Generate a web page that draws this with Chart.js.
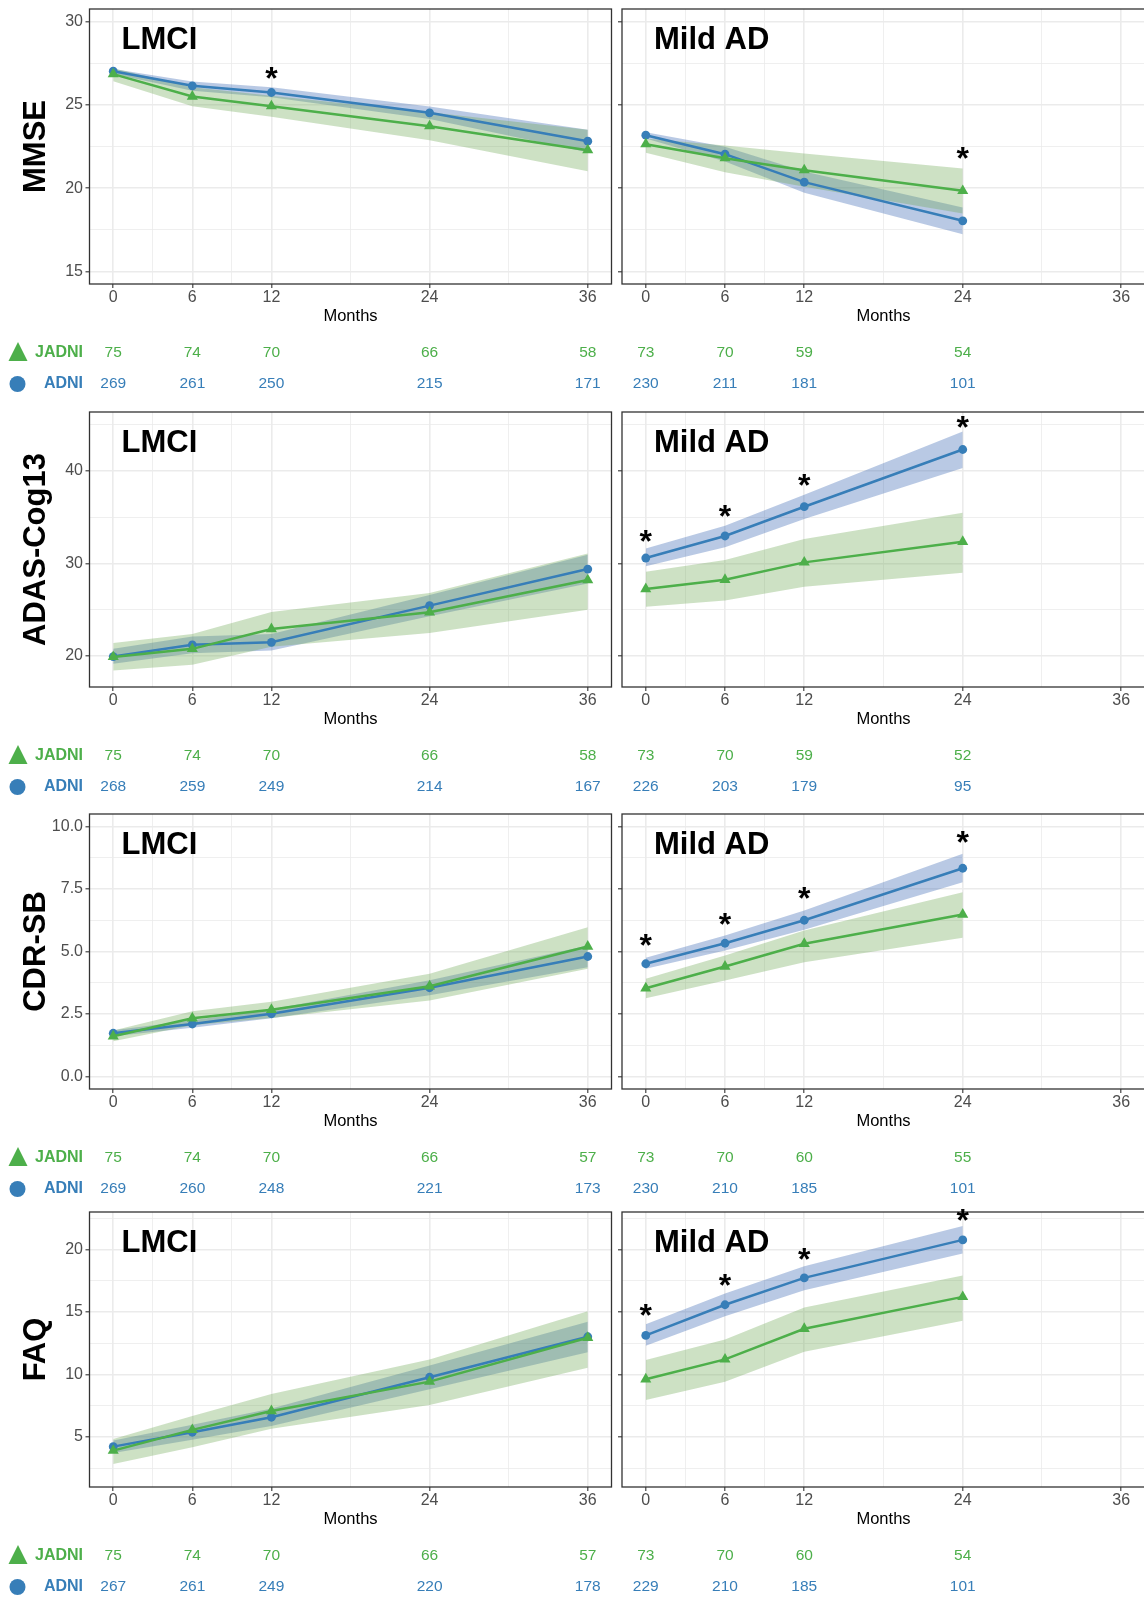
<!DOCTYPE html>
<html>
<head>
<meta charset="utf-8">
<script src="https://cdn.jsdelivr.net/npm/chart.js@4.4.1/dist/chart.umd.min.js"></script>
<style>
  html, body { margin: 0; padding: 0; background: #fff; overflow: hidden; }
  #wrap { position: relative; width: 1144px; height: 1597px; overflow: hidden; }
  canvas { position: absolute; max-width: none; }
</style>
</head>
<body>
<div id="wrap"></div>
<script>
const FONT = '"Liberation Sans", Arial, Helvetica, sans-serif'
const BLUE = '#377EB8'
const GREEN = '#4DAF4A'
const BLUE_BAND = 'rgba(55,101,178,0.35)'
const GREEN_BAND = 'rgba(112,169,86,0.35)'

const monthsLmci = [0, 6, 12, 24, 36]
const monthsAd = [0, 6, 12, 24]
const xMajor = [0, 6, 12, 24, 36]
const xMinor = [3, 9, 18, 30]

// MMSE
const mmseTicks = [15, 20, 25, 30]
const mmseMinor = [17.5, 22.5, 27.5]
const mmseLmciAdni = [27.02, 26.14, 25.74, 24.52, 22.82]
const mmseLmciAdniLo = [26.85, 25.85, 25.45, 24.15, 22.15]
const mmseLmciAdniHi = [27.15, 26.40, 26.05, 24.90, 23.50]
const mmseLmciJadni = [26.84, 25.50, 24.92, 23.72, 22.28]
const mmseLmciJadniLo = [26.42, 24.92, 24.28, 22.88, 21.02]
const mmseLmciJadniHi = [27.20, 26.05, 25.55, 24.55, 23.50]
const mmseLmciStarX = [12]
const mmseLmciStarY = [26.92]
const mmseLmciNJadni = [75, 74, 70, 66, 58]
const mmseLmciNAdni = [269, 261, 250, 215, 171]
const mmseAdAdni = [23.18, 22.04, 20.36, 18.04]
const mmseAdAdniLo = [22.98, 21.60, 19.72, 17.24]
const mmseAdAdniHi = [23.36, 22.48, 21.00, 18.84]
const mmseAdJadni = [22.64, 21.80, 21.08, 19.84]
const mmseAdJadniLo = [22.12, 20.96, 20.08, 18.48]
const mmseAdJadniHi = [22.98, 22.56, 22.08, 21.18]
const mmseAdStarX = [24]
const mmseAdStarY = [22.12]
const mmseAdNJadni = [73, 70, 59, 54]
const mmseAdNAdni = [230, 211, 181, 101]

// ADAS-Cog13
const adasTicks = [20, 30, 40]
const adasMinor = [25, 35, 45]
const adasLmciAdni = [19.94, 21.20, 21.48, 25.44, 29.39]
const adasLmciAdniLo = [19.15, 20.30, 20.58, 24.30, 27.84]
const adasLmciAdniHi = [20.77, 22.10, 22.38, 26.59, 30.94]
const adasLmciJadni = [19.90, 20.77, 22.92, 24.72, 28.20]
const adasLmciJadniLo = [18.43, 19.04, 21.00, 22.49, 25.00]
const adasLmciJadniHi = [21.41, 22.38, 24.76, 26.80, 31.08]
const adasLmciStarX = []
const adasLmciStarY = []
const adasLmciNJadni = [75, 74, 70, 66, 58]
const adasLmciNAdni = [268, 259, 249, 214, 167]
const adasAdAdni = [30.58, 32.96, 36.12, 42.30]
const adasAdAdniLo = [29.68, 31.73, 34.79, 40.29]
const adasAdAdniHi = [31.62, 34.07, 37.41, 44.24]
const adasAdJadni = [27.24, 28.24, 30.11, 32.34]
const adasAdJadniLo = [25.33, 25.98, 27.49, 29.00]
const adasAdJadniHi = [29.10, 30.36, 32.63, 35.47]
const adasAdStarX = [0, 6, 12, 24]
const adasAdStarY = [32.99, 35.68, 38.99, 45.32]
const adasAdNJadni = [73, 70, 59, 52]
const adasAdNAdni = [226, 203, 179, 95]

// CDR-SB
const cdrTicks = [0, 2.5, 5, 7.5, 10]
const cdrMinor = [1.25, 3.75, 6.25, 8.75]
const cdrLmciAdni = [1.73, 2.10, 2.51, 3.55, 4.80]
const cdrLmciAdniLo = [1.61, 1.95, 2.33, 3.25, 4.37]
const cdrLmciAdniHi = [1.85, 2.25, 2.69, 3.85, 5.24]
const cdrLmciJadni = [1.61, 2.33, 2.67, 3.61, 5.20]
const cdrLmciJadniLo = [1.41, 2.05, 2.34, 3.04, 4.31]
const cdrLmciJadniHi = [1.84, 2.61, 2.99, 4.11, 5.97]
const cdrLmciStarX = []
const cdrLmciStarY = []
const cdrLmciNJadni = [75, 74, 70, 66, 57]
const cdrLmciNAdni = [269, 260, 248, 221, 173]
const cdrAdAdni = [4.51, 5.33, 6.25, 8.33]
const cdrAdAdniLo = [4.31, 5.04, 5.87, 7.77]
const cdrAdAdniHi = [4.75, 5.64, 6.64, 8.91]
const cdrAdJadni = [3.53, 4.40, 5.31, 6.48]
const cdrAdJadniLo = [3.13, 3.84, 4.57, 5.55]
const cdrAdJadniHi = [3.91, 4.84, 5.84, 7.37]
const cdrAdStarX = [0, 6, 12, 24]
const cdrAdStarY = [5.47, 6.31, 7.33, 9.57]
const cdrAdNJadni = [73, 70, 60, 55]
const cdrAdNAdni = [230, 210, 185, 101]

// FAQ
const faqTicks = [5, 10, 15, 20]
const faqMinor = [2.5, 7.5, 12.5, 17.5, 22.5]
const faqLmciAdni = [4.23, 5.38, 6.58, 9.78, 13.02]
const faqLmciAdniLo = [3.73, 4.78, 5.88, 8.83, 11.78]
const faqLmciAdniHi = [4.73, 5.98, 7.28, 10.73, 14.22]
const faqLmciJadni = [3.91, 5.57, 7.08, 9.43, 12.94]
const faqLmciJadniLo = [2.85, 4.19, 5.67, 7.56, 10.54]
const faqLmciJadniHi = [4.85, 6.69, 8.44, 11.21, 15.07]
const faqLmciStarX = []
const faqLmciStarY = []
const faqLmciNJadni = [75, 74, 70, 66, 57]
const faqLmciNAdni = [267, 261, 249, 220, 178]
const faqAdAdni = [13.13, 15.58, 17.73, 20.77]
const faqAdAdniLo = [12.30, 14.67, 16.75, 19.68]
const faqAdAdniHi = [14.03, 16.48, 18.67, 21.89]
const faqAdJadni = [9.62, 11.21, 13.66, 16.21]
const faqAdJadniLo = [7.96, 9.43, 11.82, 14.30]
const faqAdJadniHi = [11.16, 12.81, 15.37, 17.92]
const faqAdStarX = [0, 6, 12, 24]
const faqAdStarY = [15.15, 17.55, 19.68, 22.74]
const faqAdNJadni = [73, 70, 60, 54]
const faqAdNAdni = [229, 210, 185, 101]

function panel(title, months, adni, adniLo, adniHi, jadni, jadniLo, jadniHi, starX, starY, nJadni, nAdni) {
  return { title, months, adni, adniLo, adniHi, jadni, jadniLo, jadniHi, starX, starY, nJadni, nAdni }
}

const intFmt = v => String(v)
const rows = [
  { label: 'MMSE', top: 0, yMin: 14.25, yMax: 30.75, yTicks: mmseTicks, yMinor: mmseMinor, fmt: intFmt,
    left: panel('LMCI', monthsLmci, mmseLmciAdni, mmseLmciAdniLo, mmseLmciAdniHi, mmseLmciJadni, mmseLmciJadniLo, mmseLmciJadniHi, mmseLmciStarX, mmseLmciStarY, mmseLmciNJadni, mmseLmciNAdni),
    right: panel('Mild AD', monthsAd, mmseAdAdni, mmseAdAdniLo, mmseAdAdniHi, mmseAdJadni, mmseAdJadniLo, mmseAdJadniHi, mmseAdStarX, mmseAdStarY, mmseAdNJadni, mmseAdNAdni) },
  { label: 'ADAS-Cog13', top: 403, yMin: 16.65, yMax: 46.35, yTicks: adasTicks, yMinor: adasMinor, fmt: intFmt,
    left: panel('LMCI', monthsLmci, adasLmciAdni, adasLmciAdniLo, adasLmciAdniHi, adasLmciJadni, adasLmciJadniLo, adasLmciJadniHi, adasLmciStarX, adasLmciStarY, adasLmciNJadni, adasLmciNAdni),
    right: panel('Mild AD', monthsAd, adasAdAdni, adasAdAdniLo, adasAdAdniHi, adasAdJadni, adasAdJadniLo, adasAdJadniHi, adasAdStarX, adasAdStarY, adasAdNJadni, adasAdNAdni) },
  { label: 'CDR-SB', top: 805, yMin: -0.5, yMax: 10.5, yTicks: cdrTicks, yMinor: cdrMinor, fmt: v => v.toFixed(1),
    left: panel('LMCI', monthsLmci, cdrLmciAdni, cdrLmciAdniLo, cdrLmciAdniHi, cdrLmciJadni, cdrLmciJadniLo, cdrLmciJadniHi, cdrLmciStarX, cdrLmciStarY, cdrLmciNJadni, cdrLmciNAdni),
    right: panel('Mild AD', monthsAd, cdrAdAdni, cdrAdAdniLo, cdrAdAdniHi, cdrAdJadni, cdrAdJadniLo, cdrAdJadniHi, cdrAdStarX, cdrAdStarY, cdrAdNJadni, cdrAdNAdni) },
  { label: 'FAQ', top: 1203, yMin: 1.0, yMax: 23.0, yTicks: faqTicks, yMinor: faqMinor, fmt: intFmt,
    left: panel('LMCI', monthsLmci, faqLmciAdni, faqLmciAdniLo, faqLmciAdniHi, faqLmciJadni, faqLmciJadniLo, faqLmciJadniHi, faqLmciStarX, faqLmciStarY, faqLmciNJadni, faqLmciNAdni),
    right: panel('Mild AD', monthsAd, faqAdAdni, faqAdAdniLo, faqAdAdniHi, faqAdJadni, faqAdJadniLo, faqAdJadniHi, faqAdStarX, faqAdStarY, faqAdNJadni, faqAdNAdni) },
]

function pts(xs, ys) {
  return xs.map((m, i) => ({ x: m, y: ys[i] }))
}

// frame, panel label, asterisks, "Months", numbers at risk
function decor(row, p, isLeft) {
  return {
    id: 'decor',
    afterDraw(chart) {
      const { ctx, chartArea: a, scales: { x, y } } = chart
      ctx.save()
      ctx.strokeStyle = '#333333'
      ctx.lineWidth = 1.3
      ctx.strokeRect(a.left, a.top, a.right - a.left, a.bottom - a.top)

      ctx.fillStyle = '#000'
      ctx.font = 'bold 31px ' + FONT
      ctx.textAlign = 'left'
      ctx.textBaseline = 'alphabetic'
      ctx.fillText(p.title, a.left + 32, a.top + 40)

      ctx.font = 'bold 32px ' + FONT
      ctx.textAlign = 'center'
      const m = ctx.measureText('*')
      const shift = (m.actualBoundingBoxAscent - m.actualBoundingBoxDescent) / 2
      p.starX.forEach((sx, i) => {
        ctx.fillText('*', x.getPixelForValue(sx), y.getPixelForValue(p.starY[i]) + shift)
      })

      ctx.textBaseline = 'middle'
      ctx.font = '16.5px ' + FONT
      ctx.fillText('Months', (a.left + a.right) / 2, a.bottom + 32)

      ctx.font = '15.5px ' + FONT
      p.months.forEach((mo, i) => {
        const px = x.getPixelForValue(mo)
        ctx.fillStyle = GREEN
        ctx.fillText(String(p.nJadni[i]), px, a.bottom + 69)
        ctx.fillStyle = BLUE
        ctx.fillText(String(p.nAdni[i]), px, a.bottom + 100)
      })

      if (isLeft) {
        ctx.save()
        ctx.fillStyle = '#000'
        ctx.font = 'bold 31px ' + FONT
        ctx.textBaseline = 'alphabetic'
        ctx.translate(34, (a.top + a.bottom) / 2)
        ctx.rotate(-Math.PI / 2)
        ctx.fillText(row.label, 0, 11)
        ctx.restore()

        ctx.fillStyle = GREEN
        ctx.beginPath()
        ctx.moveTo(8.5, a.bottom + 77)
        ctx.lineTo(27.5, a.bottom + 77)
        ctx.lineTo(18, a.bottom + 58)
        ctx.closePath()
        ctx.fill()
        ctx.fillStyle = BLUE
        ctx.beginPath()
        ctx.arc(17.5, a.bottom + 100, 8, 0, Math.PI * 2)
        ctx.fill()

        ctx.font = 'bold 16px ' + FONT
        ctx.textAlign = 'right'
        ctx.fillStyle = GREEN
        ctx.fillText('JADNI', 83, a.bottom + 69)
        ctx.fillStyle = BLUE
        ctx.fillText('ADNI', 83, a.bottom + 100)
      }
      ctx.restore()
    }
  }
}

function makeChart(row, p, isLeft) {
  const w = isLeft ? 617 : 530
  const canvas = document.createElement('canvas')
  canvas.width = w
  canvas.height = 400
  canvas.style.width = w + 'px'
  canvas.style.height = '400px'
  canvas.style.left = (isLeft ? 0 : 617) + 'px'
  canvas.style.top = row.top + 'px'
  document.getElementById('wrap').appendChild(canvas)

  const allX = xMajor.concat(xMinor).sort((a, b) => a - b)
  const allY = row.yTicks.concat(row.yMinor).sort((a, b) => a - b)
  const isMajorX = c => c.tick && xMajor.includes(c.tick.value)
  const isMajorY = c => c.tick && row.yTicks.includes(c.tick.value)
  const band = { borderColor: 'transparent', borderWidth: 0, pointRadius: 0, pointHoverRadius: 0, tension: 0 }

  return new Chart(canvas.getContext('2d'), {
    type: 'line',
    data: {
      datasets: [
        { ...band, data: pts(p.months, p.adniHi), fill: '+1', backgroundColor: BLUE_BAND, order: 4 },
        { ...band, data: pts(p.months, p.adniLo), fill: false, order: 4 },
        { ...band, data: pts(p.months, p.jadniHi), fill: '+1', backgroundColor: GREEN_BAND, order: 3 },
        { ...band, data: pts(p.months, p.jadniLo), fill: false, order: 3 },
        { data: pts(p.months, p.adni), borderColor: BLUE, pointBackgroundColor: BLUE, borderWidth: 2.5,
          pointStyle: 'circle', pointRadius: 4.4, pointBorderWidth: 0, fill: false, tension: 0, order: 2 },
        { data: pts(p.months, p.jadni), borderColor: GREEN, pointBackgroundColor: GREEN, borderWidth: 2.5,
          pointStyle: 'triangle', pointRadius: 6.4, pointBorderWidth: 0, fill: false, tension: 0, order: 1 },
      ]
    },
    options: {
      responsive: false,
      animation: false,
      events: [],
      layout: { autoPadding: false, padding: { left: 0, right: isLeft ? 5.5 : 2, top: 9, bottom: 0 } },
      plugins: { legend: { display: false }, tooltip: { enabled: false } },
      scales: {
        x: {
          type: 'linear', min: -1.8, max: 37.8, bounds: 'data',
          afterBuildTicks: s => { s.ticks = allX.map(v => ({ value: v })) },
          afterFit: s => { s.height = 116; s.paddingLeft = 0; s.paddingRight = 0 },
          ticks: { autoSkip: false, maxRotation: 0, padding: 0, color: '#4D4D4D',
                   font: { family: FONT, size: 16 },
                   callback: v => xMajor.includes(v) ? String(v) : '' },
          grid: { color: '#EBEBEB', lineWidth: c => isMajorX(c) ? 1.6 : 0.8,
                  tickLength: 4, tickWidth: 1.1,
                  tickColor: c => isMajorX(c) ? '#333333' : 'rgba(0,0,0,0)' },
          border: { display: false }
        },
        y: {
          type: 'linear', min: row.yMin, max: row.yMax, bounds: 'data',
          afterBuildTicks: s => { s.ticks = allY.map(v => ({ value: v })) },
          afterFit: s => { s.width = isLeft ? 89.5 : 5; s.paddingTop = 0; s.paddingBottom = 0 },
          ticks: { display: isLeft, autoSkip: false, padding: 2.5, color: '#4D4D4D',
                   font: { family: FONT, size: 16 },
                   callback: v => row.yTicks.includes(v) ? row.fmt(v) : '' },
          grid: { color: '#EBEBEB', lineWidth: c => isMajorY(c) ? 1.6 : 0.8,
                  tickLength: 4, tickWidth: 1.1,
                  tickColor: c => isMajorY(c) ? '#333333' : 'rgba(0,0,0,0)' },
          border: { display: false }
        }
      }
    },
    plugins: [decor(row, p, isLeft)]
  })
}

rows.forEach(row => {
  makeChart(row, row.left, true)
  makeChart(row, row.right, false)
})
</script>
</body>
</html>
